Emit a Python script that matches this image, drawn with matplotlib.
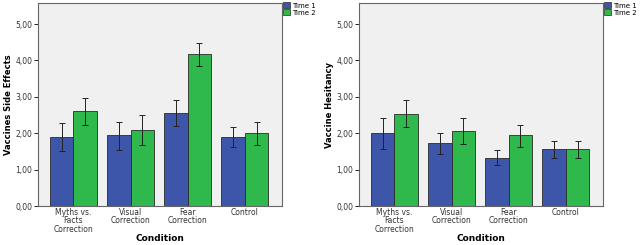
import numpy as np
import matplotlib
matplotlib.use("Agg")
import matplotlib.pyplot as plt
from matplotlib.patches import Patch
from matplotlib.ticker import FuncFormatter

categories = ["Myths vs.\nFacts\nCorrection", "Visual\nCorrection", "Fear\nCorrection", "Control"]
series = ["Time 1", "Time 2"]

# Vaccines side effects
side_t1 = [1.90, 1.94, 2.57, 1.90]
side_t1_lo = [1.52, 1.55, 2.20, 1.63]
side_t1_hi = [2.28, 2.32, 2.92, 2.16]
side_t2 = [2.60, 2.10, 4.17, 2.00]
side_t2_lo = [2.23, 1.68, 3.86, 1.68]
side_t2_hi = [2.96, 2.51, 4.48, 2.32]

# Vaccine hesitancy
hes_t1 = [2.00, 1.73, 1.33, 1.57]
hes_t1_lo = [1.58, 1.44, 1.14, 1.33]
hes_t1_hi = [2.43, 2.02, 1.54, 1.80]
hes_t2 = [2.54, 2.07, 1.94, 1.57]
hes_t2_lo = [2.18, 1.70, 1.63, 1.33]
hes_t2_hi = [2.90, 2.43, 2.24, 1.80]

blue = "#3d56a9"
green = "#2fb84b"
edge = "#2a2a2a"

fig = plt.figure(figsize=(6.4, 2.45), dpi=100)
W, H = 640, 245

def panel(left, ylabel, t1, t1lo, t1hi, t2, t2lo, t2hi):
    ax = fig.add_axes([left / W, (H - 206) / H, 244 / W, 203 / H])
    ax.set_facecolor("#f0f0f0")
    x = np.arange(len(categories))
    w = 0.41
    for vals, lo, hi, col, off in [(t1, t1lo, t1hi, blue, -w / 2), (t2, t2lo, t2hi, green, w / 2)]:
        vals = np.array(vals)
        ax.bar(x + off, vals, w, color=col, edgecolor=edge, linewidth=0.6, zorder=2)
        err = [vals - np.array(lo), np.array(hi) - vals]
        ax.errorbar(x + off, vals, yerr=err, fmt="none", ecolor="#222222",
                    elinewidth=0.7, capsize=2.5, capthick=0.7, zorder=3)
    ax.set_xlim(-0.62, 3.65)
    ax.set_ylim(0, 5.58)
    ax.set_yticks([0, 1, 2, 3, 4, 5])
    ax.yaxis.set_major_formatter(FuncFormatter(lambda v, p: ("%.2f" % v).replace(".", ",")))
    ax.set_xticks(x)
    ax.set_xticklabels(categories, fontsize=5.5, color="#333333", linespacing=0.9)
    ax.tick_params(axis="x", length=0, pad=1.5)
    ax.tick_params(axis="y", length=3, width=0.6, labelsize=5.5, labelcolor="#333333", pad=1)
    for s in ax.spines.values():
        s.set_color("#666666")
        s.set_linewidth(0.8)
    ax.set_ylabel(ylabel, fontsize=6, fontweight="bold", labelpad=2)
    ax.set_xlabel("Condition", fontsize=6.5, fontweight="bold", labelpad=0.5)
    handles = [Patch(facecolor=blue, edgecolor=edge, linewidth=0.5),
               Patch(facecolor=green, edgecolor=edge, linewidth=0.5)]
    ax.legend(handles, series, loc="upper left", bbox_to_anchor=(1.0, 1.01),
              frameon=False, fontsize=5, handlelength=1.0, handleheight=0.9,
              handletextpad=0.3, labelspacing=0.1, borderaxespad=0.1, borderpad=0.1)
    return ax

panel(38, "Vaccines Side Effects", side_t1, side_t1_lo, side_t1_hi, side_t2, side_t2_lo, side_t2_hi)
panel(359, "Vaccine Hesitancy", hes_t1, hes_t1_lo, hes_t1_hi, hes_t2, hes_t2_lo, hes_t2_hi)

fig.savefig("out.png", dpi=100, facecolor="white")
